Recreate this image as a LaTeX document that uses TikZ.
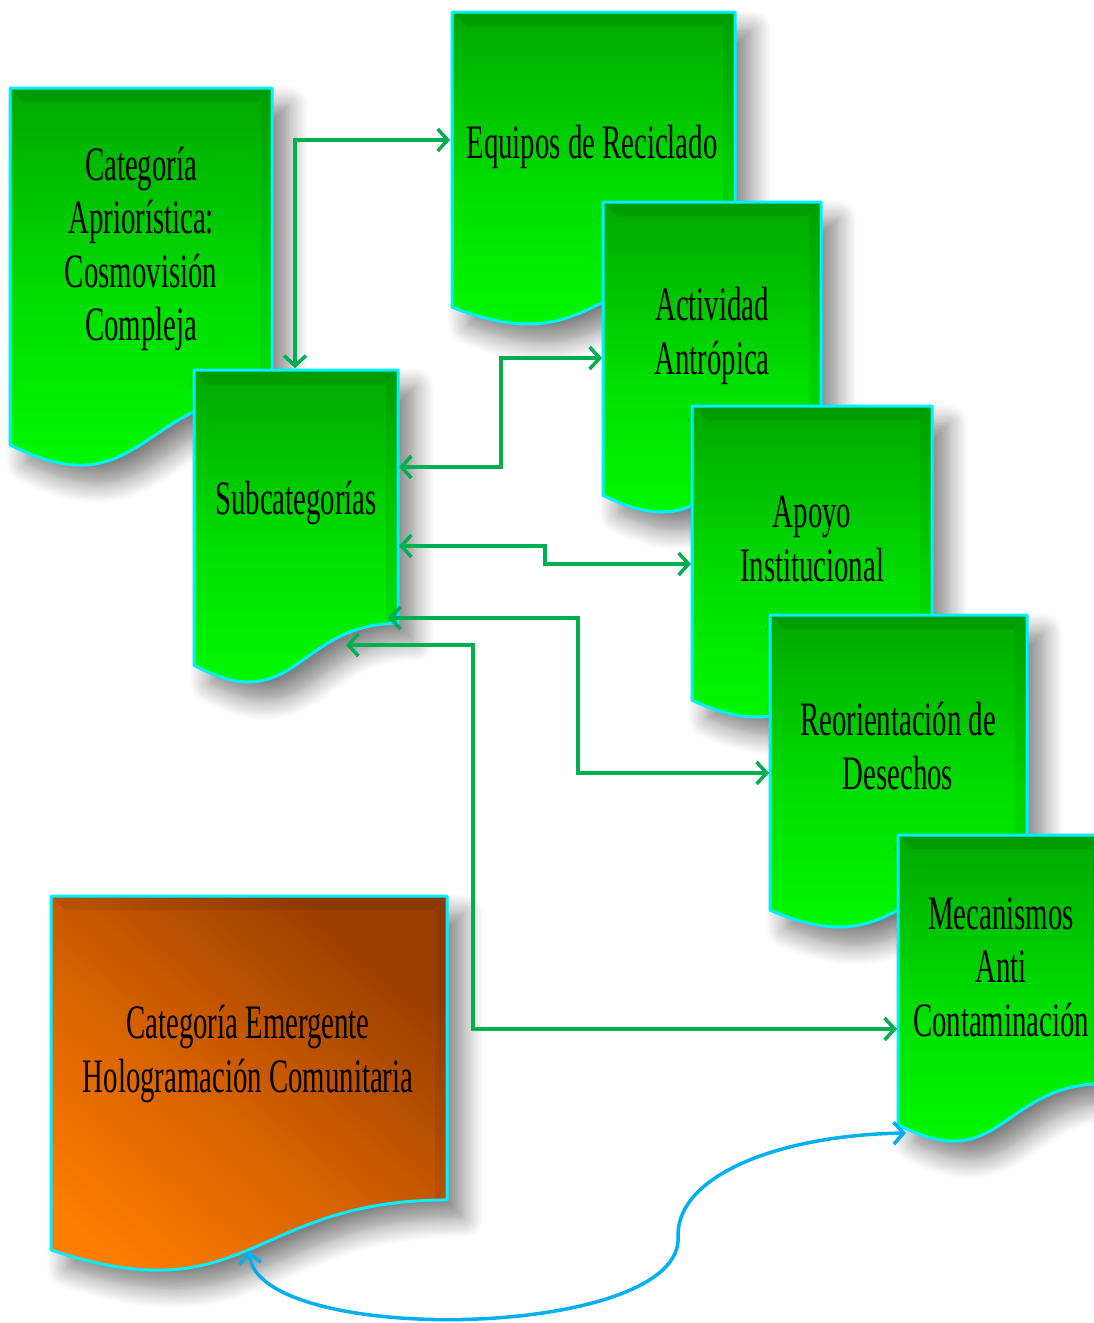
\documentclass[tikz,border=0pt]{standalone}
\usepackage{fontspec}
\newfontfamily\condserif[FakeStretch=0.6]{Liberation Serif}
\usetikzlibrary{arrows.meta,shadows.blur}
\definecolor{gtop}{RGB}{0,168,0}
\definecolor{gmid}{RGB}{0,222,0}
\definecolor{gbot}{RGB}{0,255,0}
\definecolor{otop}{RGB}{152,62,0}
\definecolor{omid}{RGB}{210,95,0}
\definecolor{obot}{RGB}{255,125,0}
\definecolor{cyanedge}{RGB}{0,240,255}
\definecolor{cgreen}{RGB}{0,176,80}
\definecolor{cblue}{RGB}{0,176,240}
\tikzset{barb/.tip={Straight Barb[length=10pt,width=22pt]}}
\newcommand\docbox[5]{%
  \shade[#5, blur shadow={shadow xshift=16pt, shadow yshift=-18pt, shadow blur radius=20pt, shadow blur steps=12, shadow opacity=50}]
    (#1,#2) -- (#3,#2) -- (#3,{#2+0.802*#4}) .. controls ({(#1+#3)/2},{#2+0.802*#4}) and ({(#1+#3)/2},{#2+1.1075*#4}) .. (#1,{#2+0.934*#4}) -- cycle;
  \fill[black, opacity=0.08] (#1,#2) -- (#3,#2) -- ({#3-14},{#2+14}) -- ({#1+14},{#2+14}) -- cycle;
  \fill[black, opacity=0.06] (#3,#2) -- ({#3-12},{#2+14}) -- ({#3-12},{#2+0.80*#4}) -- (#3,{#2+0.802*#4}) -- cycle;
  \draw[cyanedge, line width=3pt, line join=round]
    (#1,#2) -- (#3,#2) -- (#3,{#2+0.802*#4}) .. controls ({(#1+#3)/2},{#2+0.802*#4}) and ({(#1+#3)/2},{#2+1.1075*#4}) .. (#1,{#2+0.934*#4}) -- cycle;
}
\begin{document}
\begin{tikzpicture}[x=1pt, y=-1pt,
  lbl/.style={font=\condserif\fontsize{48}{53.5}\selectfont, align=center, inner sep=0pt, text=black},
  gbox/.style={top color=gtop, bottom color=gbot, middle color=gmid},
  obox/.style={top color=otop, bottom color=obot, middle color=omid, shading angle=-40},
  conn/.style={draw=cgreen, line width=3.5pt, barb-barb},
  bconn/.style={draw=cblue, line width=3.5pt, barb-barb}]
\useasboundingbox (0,0) rectangle (1094,1323);
\clip (0,0) rectangle (1094,1323);
% boxes (back to front)
\docbox{10}{88}{272}{382}{gbox}
\node[lbl] (cat) at (141,249) {Categoría\\Apriorística:\\Cosmovisión\\Compleja};
\docbox{452}{12}{735}{316}{gbox}
\node[lbl] (equ) at (592,147) {Equipos de Reciclado};
\docbox{194}{370}{398}{316}{gbox}
\node[lbl] (sub) at (296,503) {Subcategorías};
\docbox{603}{202}{821}{314}{gbox}
\node[lbl] (act) at (712,336) {Actividad\\Antrópica};
\docbox{692}{406}{932}{315}{gbox}
\node[lbl] (apo) at (812,539) {Apoyo\\Institucional};
\docbox{770}{615}{1027}{316}{gbox}
\node[lbl] (reo) at (898,746) {Reorientación de\\Desechos};
\docbox{898}{835}{1104}{310}{gbox}
\node[lbl] (mec) at (1001,967) {Mecanismos\\Anti\\Contaminación};
\docbox{51}{896}{447}{379}{obox}
\node[lbl] (ora) at (248,1054) {Categoría Emergente\\Hologramación Comunitaria};
% connector end points
\coordinate (eqW) at (450,140);
\coordinate (subN) at (295,368);
\coordinate (subE1) at (399,467);
\coordinate (actW) at (602,358);
\coordinate (subE2) at (399,546);
\coordinate (apoW) at (691,564);
\coordinate (subE3) at (388,618);
\coordinate (reoW) at (769,773);
\coordinate (subB) at (346,645);
\coordinate (mecW) at (897,1029);
\coordinate (oraB) at (249,1251);
\coordinate (mecB) at (906,1133);
% connectors
\draw[conn] (eqW) -| (subN);
\draw[conn] (subE1) -- ++(102,0) |- (actW);
\draw[conn] (subE2) -- ++(146,0) |- (apoW);
\draw[conn] (subE3) -- ++(190,0) |- (reoW);
\draw[conn] (subB) -- ++(127,0) |- (mecW);
\draw[bconn] (oraB) .. controls (258,1348) and (688,1340) .. (678,1235) .. controls (678,1175) and (780,1135) .. (mecB);
\end{tikzpicture}
\end{document}
